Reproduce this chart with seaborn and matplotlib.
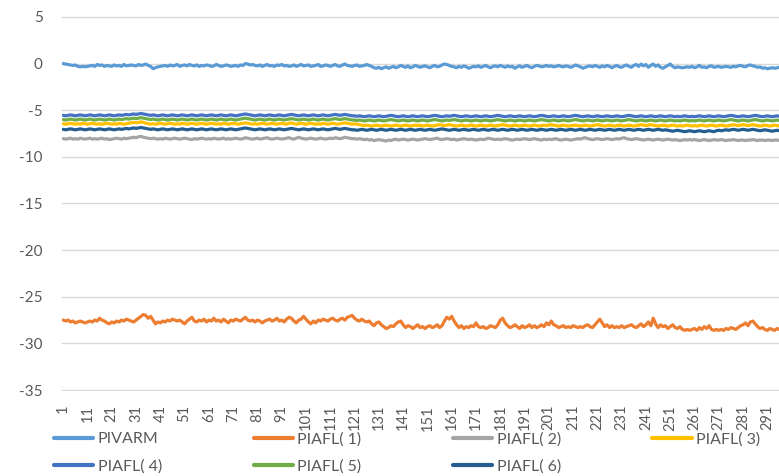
import numpy as np
import pandas as pd
import matplotlib
matplotlib.use('Agg')
import matplotlib.pyplot as plt
import seaborn as sns
from matplotlib.lines import Line2D

# series names and Excel default colours
names = ['PIVARM', 'PIAFL( 1)', 'PIAFL( 2)', 'PIAFL( 3)', 'PIAFL( 4)', 'PIAFL( 5)', 'PIAFL( 6)']
colors = ['#5B9BD5', '#ED7D31', '#A5A5A5', '#FFC000', '#4472C4', '#70AD47', '#255E91']

# x tick labels (every 10th category)
tick_labels = [str(v) for v in range(1, 292, 10)]

pivarm = [
    0.0, -0.05, -0.1, -0.15, -0.2, -0.15, -0.3, -0.35, -0.3, -0.35,
    -0.3, -0.25, -0.2, -0.3, -0.1, -0.2, -0.15, -0.3, -0.2, -0.25,
    -0.3, -0.15, -0.25, -0.2, -0.3, -0.1, -0.25, -0.2, -0.15, -0.2,
    -0.25, -0.1, -0.2, -0.15, -0.05, -0.2, -0.3, -0.55, -0.45, -0.35,
    -0.3, -0.25, -0.2, -0.3, -0.15, -0.25, -0.2, -0.1, -0.3, -0.2,
    -0.15, -0.25, -0.1, -0.2, -0.25, -0.15, -0.3, -0.2, -0.25, -0.15,
    -0.2, -0.3, -0.25, -0.1, -0.2, -0.3, -0.25, -0.15, -0.2, -0.3,
    -0.25, -0.2, -0.3, -0.15, -0.2, 0.0, -0.05, -0.15, -0.1, -0.2,
    -0.25, -0.15, -0.3, -0.2, -0.1, -0.25, -0.2, -0.3, -0.15, -0.2,
    -0.1, -0.25, -0.2, -0.3, -0.25, -0.15, -0.3, -0.2, -0.1, -0.25,
    -0.2, -0.15, -0.3, -0.25, -0.2, -0.1, -0.3, -0.25, -0.15, -0.2,
    -0.3, -0.2, -0.1, -0.25, -0.3, -0.15, -0.05, -0.2, -0.25, -0.3,
    -0.2, -0.15, -0.3, -0.25, -0.2, -0.1, -0.2, -0.3, -0.45, -0.5,
    -0.4, -0.55, -0.45, -0.35, -0.5, -0.4, -0.3, -0.45, -0.35, -0.2,
    -0.3, -0.4, -0.25, -0.45, -0.35, -0.2, -0.3, -0.4, -0.3, -0.25,
    -0.35, -0.45, -0.3, -0.2, -0.35, -0.3, -0.15, -0.05, -0.1, -0.2,
    -0.3, -0.35, -0.45, -0.3, -0.4, -0.25, -0.35, -0.5, -0.4, -0.3,
    -0.35, -0.25, -0.4, -0.3, -0.2, -0.35, -0.45, -0.3, -0.25, -0.35,
    -0.2, -0.3, -0.4, -0.25, -0.35, -0.3, -0.5, -0.35, -0.25, -0.4,
    -0.3, -0.2, -0.35, -0.45, -0.3, -0.2, -0.25, -0.35, -0.3, -0.2,
    -0.3, -0.25, -0.35, -0.3, -0.2, -0.3, -0.35, -0.25, -0.3, -0.4,
    -0.3, -0.15, -0.25, -0.35, -0.5, -0.4, -0.3, -0.25, -0.35, -0.2,
    -0.3, -0.4, -0.25, -0.35, -0.2, -0.3, -0.45, -0.3, -0.2, -0.35,
    -0.4, -0.25, -0.15, -0.3, -0.4, -0.2, -0.1, -0.3, -0.05, -0.25,
    -0.1, -0.4, -0.2, -0.05, -0.3, -0.15, -0.4, -0.5, -0.35, -0.2,
    -0.05, -0.3, -0.45, -0.35, -0.4, -0.45, -0.4, -0.35, -0.4, -0.3,
    -0.45, -0.35, -0.2, -0.4, -0.35, -0.45, -0.3, -0.25, -0.4, -0.35,
    -0.3, -0.4, -0.35, -0.3, -0.35, -0.4, -0.3, -0.35, -0.25, -0.2,
    -0.3, -0.35, -0.2, -0.15, -0.25, -0.3, -0.4, -0.35, -0.5, -0.45,
    -0.55, -0.5, -0.45, -0.5, -0.45, -0.4,
]

piafl_1 = [
    -27.5, -27.6, -27.5, -27.7, -27.6, -27.8, -27.7, -27.6, -27.7, -27.8,
    -27.7, -27.6, -27.7, -27.5, -27.6, -27.3, -27.5, -27.6, -27.8, -27.9,
    -27.7, -27.8, -27.6, -27.7, -27.5, -27.6, -27.4, -27.5, -27.6, -27.7,
    -27.5, -27.3, -27.1, -26.9, -27.0, -27.3, -27.1, -27.5, -27.9, -27.7,
    -27.8, -27.6, -27.7, -27.5, -27.6, -27.4, -27.5, -27.6, -27.5, -27.7,
    -27.9, -27.6, -27.4, -27.2, -27.6, -27.7, -27.5, -27.6, -27.4, -27.7,
    -27.5, -27.6, -27.3, -27.6, -27.5, -27.7, -27.4, -27.6, -27.8, -27.5,
    -27.6, -27.4, -27.5, -27.6, -27.4, -27.2, -27.5, -27.6, -27.5, -27.7,
    -27.5, -27.6, -27.8, -27.6, -27.5, -27.4, -27.6, -27.5, -27.3, -27.6,
    -27.5, -27.7, -27.4, -27.2, -27.3, -27.6, -27.8, -27.5, -27.4, -27.1,
    -27.4, -27.7, -27.9, -27.6, -27.8, -27.5, -27.6, -27.4, -27.5, -27.6,
    -27.4, -27.3, -27.5, -27.6, -27.4, -27.3, -27.5, -27.2, -27.1, -27.0,
    -27.3, -27.5, -27.6, -27.4, -27.6, -27.7, -27.6, -27.9, -28.1, -27.8,
    -27.7, -28.0, -28.2, -28.4, -28.3, -28.1, -28.2, -27.9, -27.7, -27.6,
    -28.0, -28.3, -28.1, -28.2, -28.4, -28.2, -28.0, -28.3, -28.2, -28.4,
    -28.2, -28.1, -28.3, -28.2, -28.0, -28.3, -28.1, -27.6, -27.2, -27.4,
    -27.1, -27.6, -28.0, -28.3, -28.1, -28.4, -28.2, -28.3, -28.1, -28.2,
    -27.8, -28.2, -28.3, -28.2, -28.4, -28.3, -28.1, -28.2, -28.3, -28.0,
    -27.5, -27.3, -27.8, -28.1, -28.3, -28.2, -28.0, -28.2, -28.4, -28.1,
    -28.3, -28.2, -28.0, -28.3, -28.1, -28.3, -28.2, -28.0, -28.2, -27.8,
    -28.0, -27.6, -28.0, -28.1, -28.3, -28.2, -28.1, -28.3, -28.2, -28.3,
    -28.1, -28.2, -28.3, -28.2, -28.3, -28.1, -28.0, -28.2, -28.3, -28.0,
    -27.7, -27.4, -27.8, -28.2, -28.0, -28.3, -28.1, -28.3, -28.2, -28.3,
    -28.1, -28.3, -28.2, -28.1, -28.0, -28.2, -28.3, -28.1, -27.9, -28.2,
    -28.0, -27.7, -28.1, -27.3, -27.9, -28.3, -28.0, -28.2, -28.1, -28.4,
    -28.2, -28.0, -28.3, -28.4, -28.2, -28.5, -28.6, -28.5, -28.6, -28.5,
    -28.4, -28.6, -28.3, -28.5, -28.2, -28.4, -28.1, -28.5, -28.6, -28.5,
    -28.6, -28.5, -28.6, -28.4, -28.5, -28.3, -28.4, -28.5, -28.3, -28.1,
    -28.0, -27.8, -28.1, -27.7, -27.6, -27.9, -28.2, -28.4, -28.3, -28.5,
    -28.6, -28.4, -28.5, -28.6, -28.4, -28.5,
]

piafl_2 = [
    -8.05, -8.1, -8.05, -8.0, -8.1, -8.05, -8.1, -8.0, -8.05, -8.1,
    -8.05, -8.0, -8.1, -8.05, -8.1, -8.05, -8.0, -8.1, -8.05, -8.15,
    -8.1, -8.05, -8.0, -8.05, -8.1, -8.0, -8.05, -8.0, -7.95, -7.9,
    -7.95, -7.85, -7.8, -7.9, -7.95, -8.0, -8.05, -8.0, -8.05, -8.1,
    -8.05, -8.1, -8.0, -8.05, -8.1, -8.05, -8.0, -8.05, -8.1, -8.05,
    -8.0, -8.05, -8.1, -8.15, -8.05, -8.1, -8.05, -8.0, -8.05, -8.1,
    -8.05, -8.1, -8.0, -8.05, -8.1, -8.05, -8.0, -8.1, -8.05, -8.1,
    -8.05, -8.0, -8.05, -8.1, -8.05, -7.95, -8.0, -8.05, -8.1, -8.05,
    -8.0, -8.1, -8.05, -8.0, -7.95, -8.05, -8.1, -8.05, -8.0, -8.05,
    -8.1, -8.05, -8.0, -7.95, -8.05, -8.1, -8.0, -7.9, -8.0, -8.05,
    -8.1, -8.05, -8.0, -8.05, -8.1, -8.05, -8.0, -8.05, -8.1, -8.05,
    -8.0, -8.05, -7.95, -8.0, -8.05, -8.0, -7.9, -7.95, -8.0, -8.05,
    -8.05, -8.1, -8.05, -8.1, -8.15, -8.1, -8.2, -8.15, -8.25, -8.2,
    -8.15, -8.2, -8.25, -8.3, -8.2, -8.25, -8.15, -8.1, -8.2, -8.15,
    -8.1, -8.15, -8.2, -8.15, -8.1, -8.15, -8.2, -8.15, -8.1, -8.05,
    -8.1, -8.15, -8.1, -8.05, -8.0, -8.1, -8.15, -8.1, -8.05, -8.1,
    -8.15, -8.1, -8.2, -8.15, -8.1, -8.05, -8.1, -8.15, -8.1, -8.15,
    -8.2, -8.15, -8.1, -8.15, -8.1, -8.0, -8.05, -8.1, -8.15, -8.1,
    -8.15, -8.1, -8.05, -8.1, -8.15, -8.2, -8.15, -8.1, -8.15, -8.1,
    -8.05, -8.1, -8.15, -8.1, -8.05, -8.1, -8.15, -8.2, -8.1, -8.15,
    -8.1, -8.15, -8.1, -8.05, -8.15, -8.2, -8.15, -8.1, -8.15, -8.2,
    -8.15, -8.1, -8.05, -8.1, -8.0, -7.95, -8.05, -8.1, -8.15, -8.1,
    -8.05, -8.1, -8.15, -8.1, -8.05, -8.1, -8.15, -8.1, -8.05, -8.1,
    -8.0, -7.95, -8.05, -8.1, -8.15, -8.1, -8.05, -8.1, -8.15, -8.2,
    -8.15, -8.1, -8.15, -8.2, -8.15, -8.1, -8.15, -8.2, -8.15, -8.1,
    -8.15, -8.2, -8.15, -8.2, -8.25, -8.2, -8.15, -8.2, -8.15, -8.2,
    -8.15, -8.2, -8.25, -8.2, -8.15, -8.2, -8.25, -8.2, -8.15, -8.2,
    -8.2, -8.15, -8.2, -8.25, -8.2, -8.2, -8.15, -8.2, -8.25, -8.2,
    -8.2, -8.25, -8.2, -8.2, -8.15, -8.2, -8.25, -8.2, -8.2, -8.25,
    -8.2, -8.2, -8.25, -8.2, -8.2, -8.25,
]

piafl_3 = [
    -6.45, -6.5, -6.45, -6.4, -6.45, -6.5, -6.45, -6.5, -6.4, -6.45,
    -6.5, -6.45, -6.4, -6.45, -6.5, -6.45, -6.5, -6.45, -6.4, -6.45,
    -6.5, -6.45, -6.5, -6.4, -6.45, -6.5, -6.45, -6.4, -6.35, -6.3,
    -6.35, -6.3, -6.25, -6.3, -6.4, -6.45, -6.5, -6.45, -6.5, -6.45,
    -6.4, -6.45, -6.5, -6.45, -6.4, -6.45, -6.5, -6.45, -6.5, -6.4,
    -6.45, -6.5, -6.45, -6.4, -6.45, -6.5, -6.45, -6.4, -6.45, -6.5,
    -6.45, -6.4, -6.45, -6.5, -6.45, -6.5, -6.4, -6.45, -6.5, -6.45,
    -6.4, -6.45, -6.5, -6.45, -6.4, -6.35, -6.4, -6.45, -6.5, -6.45,
    -6.5, -6.45, -6.4, -6.45, -6.5, -6.45, -6.4, -6.45, -6.5, -6.45,
    -6.4, -6.45, -6.5, -6.4, -6.35, -6.45, -6.5, -6.45, -6.4, -6.45,
    -6.5, -6.45, -6.4, -6.45, -6.5, -6.45, -6.5, -6.4, -6.45, -6.5,
    -6.45, -6.4, -6.45, -6.5, -6.45, -6.4, -6.35, -6.4, -6.45, -6.5,
    -6.45, -6.5, -6.55, -6.6, -6.65, -6.6, -6.65, -6.7, -6.65, -6.6,
    -6.65, -6.7, -6.65, -6.6, -6.65, -6.7, -6.65, -6.6, -6.65, -6.7,
    -6.65, -6.6, -6.65, -6.7, -6.65, -6.6, -6.65, -6.6, -6.7, -6.65,
    -6.6, -6.65, -6.7, -6.65, -6.6, -6.55, -6.6, -6.65, -6.6, -6.55,
    -6.6, -6.65, -6.7, -6.65, -6.6, -6.65, -6.7, -6.65, -6.6, -6.65,
    -6.7, -6.65, -6.6, -6.65, -6.7, -6.65, -6.6, -6.65, -6.7, -6.65,
    -6.6, -6.55, -6.6, -6.65, -6.7, -6.65, -6.6, -6.65, -6.7, -6.65,
    -6.6, -6.65, -6.7, -6.65, -6.6, -6.65, -6.7, -6.65, -6.6, -6.65,
    -6.6, -6.55, -6.6, -6.65, -6.7, -6.65, -6.6, -6.65, -6.7, -6.65,
    -6.65, -6.6, -6.65, -6.7, -6.65, -6.6, -6.65, -6.7, -6.65, -6.6,
    -6.55, -6.6, -6.65, -6.7, -6.65, -6.6, -6.65, -6.7, -6.65, -6.6,
    -6.65, -6.7, -6.65, -6.6, -6.65, -6.7, -6.65, -6.6, -6.55, -6.6,
    -6.65, -6.6, -6.55, -6.6, -6.65, -6.7, -6.65, -6.6, -6.65, -6.7,
    -6.65, -6.6, -6.65, -6.7, -6.65, -6.7, -6.65, -6.6, -6.65, -6.7,
    -6.65, -6.7, -6.65, -6.6, -6.65, -6.7, -6.65, -6.6, -6.65, -6.7,
    -6.65, -6.6, -6.65, -6.7, -6.65, -6.6, -6.55, -6.6, -6.65, -6.6,
    -6.55, -6.6, -6.65, -6.6, -6.55, -6.6, -6.65, -6.7, -6.65, -6.6,
    -6.65, -6.7, -6.65, -6.6, -6.65, -6.7,
]

piafl_4 = [
    -5.55, -5.6, -5.55, -5.5, -5.55, -5.6, -5.55, -5.5, -5.55, -5.6,
    -5.55, -5.5, -5.55, -5.6, -5.55, -5.5, -5.55, -5.6, -5.55, -5.5,
    -5.55, -5.6, -5.55, -5.5, -5.55, -5.5, -5.45, -5.5, -5.45, -5.4,
    -5.45, -5.4, -5.35, -5.4, -5.45, -5.5, -5.55, -5.5, -5.55, -5.6,
    -5.55, -5.5, -5.55, -5.6, -5.55, -5.5, -5.55, -5.6, -5.55, -5.5,
    -5.55, -5.6, -5.55, -5.5, -5.55, -5.6, -5.55, -5.5, -5.55, -5.6,
    -5.55, -5.5, -5.55, -5.6, -5.55, -5.5, -5.55, -5.6, -5.55, -5.5,
    -5.55, -5.6, -5.55, -5.5, -5.45, -5.4, -5.45, -5.5, -5.55, -5.6,
    -5.55, -5.5, -5.55, -5.6, -5.55, -5.5, -5.55, -5.6, -5.55, -5.5,
    -5.55, -5.6, -5.55, -5.5, -5.45, -5.5, -5.55, -5.6, -5.55, -5.5,
    -5.55, -5.6, -5.55, -5.5, -5.55, -5.6, -5.55, -5.5, -5.55, -5.6,
    -5.55, -5.5, -5.45, -5.5, -5.55, -5.5, -5.45, -5.5, -5.55, -5.6,
    -5.6, -5.65, -5.6, -5.65, -5.7, -5.65, -5.6, -5.65, -5.7, -5.65,
    -5.6, -5.65, -5.7, -5.65, -5.6, -5.55, -5.6, -5.65, -5.7, -5.65,
    -5.6, -5.65, -5.7, -5.65, -5.6, -5.65, -5.7, -5.65, -5.6, -5.65,
    -5.7, -5.65, -5.6, -5.55, -5.6, -5.65, -5.7, -5.65, -5.6, -5.65,
    -5.6, -5.55, -5.6, -5.65, -5.7, -5.65, -5.6, -5.65, -5.7, -5.65,
    -5.6, -5.65, -5.7, -5.65, -5.6, -5.65, -5.7, -5.65, -5.6, -5.55,
    -5.6, -5.65, -5.7, -5.65, -5.6, -5.65, -5.7, -5.65, -5.6, -5.65,
    -5.7, -5.65, -5.6, -5.65, -5.7, -5.65, -5.6, -5.55, -5.6, -5.65,
    -5.7, -5.65, -5.6, -5.65, -5.7, -5.65, -5.6, -5.65, -5.7, -5.65,
    -5.6, -5.55, -5.6, -5.65, -5.7, -5.65, -5.6, -5.65, -5.7, -5.65,
    -5.6, -5.65, -5.7, -5.65, -5.6, -5.65, -5.7, -5.65, -5.6, -5.65,
    -5.7, -5.65, -5.6, -5.55, -5.6, -5.65, -5.7, -5.65, -5.6, -5.65,
    -5.7, -5.65, -5.6, -5.65, -5.7, -5.65, -5.6, -5.65, -5.7, -5.65,
    -5.6, -5.65, -5.7, -5.65, -5.7, -5.65, -5.6, -5.65, -5.7, -5.65,
    -5.7, -5.65, -5.6, -5.65, -5.7, -5.65, -5.6, -5.65, -5.7, -5.65,
    -5.6, -5.65, -5.7, -5.65, -5.6, -5.55, -5.6, -5.65, -5.7, -5.65,
    -5.6, -5.65, -5.7, -5.65, -5.6, -5.55, -5.6, -5.65, -5.7, -5.65,
    -5.6, -5.65, -5.7, -5.65, -5.6, -5.65,
]

piafl_5 = [
    -6.0, -6.05, -6.0, -5.95, -6.0, -6.05, -6.0, -5.95, -6.0, -6.05,
    -6.0, -5.95, -6.0, -6.05, -6.0, -5.95, -6.0, -6.05, -6.0, -5.95,
    -6.0, -6.05, -6.0, -5.95, -6.0, -5.95, -5.9, -5.95, -5.9, -5.85,
    -5.9, -5.85, -5.8, -5.85, -5.9, -5.95, -6.0, -5.95, -6.0, -6.05,
    -6.0, -5.95, -6.0, -6.05, -6.0, -5.95, -6.0, -6.05, -6.0, -5.95,
    -6.0, -6.05, -6.0, -5.95, -6.0, -6.05, -6.0, -5.95, -6.0, -6.05,
    -6.0, -5.95, -6.0, -6.05, -6.0, -5.95, -6.0, -6.05, -6.0, -5.95,
    -6.0, -6.05, -6.0, -5.95, -5.9, -5.85, -5.9, -5.95, -6.0, -6.05,
    -6.0, -5.95, -6.0, -6.05, -6.0, -5.95, -6.0, -6.05, -6.0, -5.95,
    -6.0, -6.05, -6.0, -5.95, -5.9, -5.95, -6.0, -6.05, -6.0, -5.95,
    -6.0, -6.05, -6.0, -5.95, -6.0, -6.05, -6.0, -5.95, -6.0, -6.05,
    -6.0, -5.95, -5.9, -5.95, -6.0, -5.95, -5.9, -5.95, -6.0, -6.05,
    -6.05, -6.1, -6.05, -6.1, -6.15, -6.1, -6.05, -6.1, -6.15, -6.1,
    -6.05, -6.1, -6.15, -6.1, -6.05, -6.0, -6.05, -6.1, -6.15, -6.1,
    -6.05, -6.1, -6.15, -6.1, -6.05, -6.1, -6.15, -6.1, -6.05, -6.1,
    -6.15, -6.1, -6.05, -6.0, -6.05, -6.1, -6.15, -6.1, -6.05, -6.1,
    -6.05, -6.0, -6.05, -6.1, -6.15, -6.1, -6.05, -6.1, -6.15, -6.1,
    -6.05, -6.1, -6.15, -6.1, -6.05, -6.1, -6.15, -6.1, -6.05, -6.0,
    -6.05, -6.1, -6.15, -6.1, -6.05, -6.1, -6.15, -6.1, -6.05, -6.1,
    -6.15, -6.1, -6.05, -6.1, -6.15, -6.1, -6.05, -6.0, -6.05, -6.1,
    -6.15, -6.1, -6.05, -6.1, -6.15, -6.1, -6.05, -6.1, -6.15, -6.1,
    -6.05, -6.0, -6.05, -6.1, -6.15, -6.1, -6.05, -6.1, -6.15, -6.1,
    -6.05, -6.1, -6.15, -6.1, -6.05, -6.1, -6.15, -6.1, -6.05, -6.1,
    -6.15, -6.1, -6.05, -6.0, -6.05, -6.1, -6.15, -6.1, -6.05, -6.1,
    -6.15, -6.1, -6.05, -6.1, -6.15, -6.1, -6.05, -6.1, -6.15, -6.1,
    -6.05, -6.1, -6.15, -6.1, -6.15, -6.1, -6.05, -6.1, -6.15, -6.1,
    -6.15, -6.1, -6.05, -6.1, -6.15, -6.1, -6.05, -6.1, -6.15, -6.1,
    -6.05, -6.1, -6.15, -6.1, -6.05, -6.0, -6.05, -6.1, -6.15, -6.1,
    -6.05, -6.1, -6.15, -6.1, -6.05, -6.0, -6.05, -6.1, -6.15, -6.1,
    -6.05, -6.1, -6.15, -6.1, -6.05, -6.1,
]

piafl_6 = [
    -7.05, -7.1, -7.05, -7.0, -7.05, -7.1, -7.05, -7.0, -7.05, -7.1,
    -7.05, -7.0, -7.05, -7.1, -7.05, -7.0, -7.05, -7.1, -7.05, -7.0,
    -7.05, -7.1, -7.05, -7.0, -7.05, -7.0, -6.95, -7.0, -6.95, -6.9,
    -6.95, -6.9, -6.85, -6.9, -6.95, -7.0, -7.05, -7.0, -7.05, -7.1,
    -7.05, -7.0, -7.05, -7.1, -7.05, -7.0, -7.05, -7.1, -7.05, -7.0,
    -7.05, -7.1, -7.05, -7.0, -7.05, -7.1, -7.05, -7.0, -7.05, -7.1,
    -7.05, -7.0, -7.05, -7.1, -7.05, -7.0, -7.05, -7.1, -7.05, -7.0,
    -7.05, -7.1, -7.05, -7.0, -6.95, -6.9, -6.95, -7.0, -7.05, -7.1,
    -7.05, -7.0, -7.05, -7.1, -7.05, -7.0, -7.05, -7.1, -7.05, -7.0,
    -7.05, -7.1, -7.05, -7.0, -6.95, -7.0, -7.05, -7.1, -7.05, -7.0,
    -7.05, -7.1, -7.05, -7.0, -7.05, -7.1, -7.05, -7.0, -7.05, -7.1,
    -7.05, -7.0, -6.95, -7.0, -7.05, -7.0, -6.95, -7.0, -7.05, -7.1,
    -7.1, -7.15, -7.1, -7.05, -7.1, -7.15, -7.1, -7.05, -7.1, -7.15,
    -7.1, -7.05, -7.1, -7.15, -7.1, -7.05, -7.1, -7.15, -7.1, -7.05,
    -7.1, -7.15, -7.1, -7.05, -7.1, -7.15, -7.1, -7.05, -7.1, -7.15,
    -7.1, -7.05, -7.1, -7.15, -7.1, -7.05, -7.0, -7.05, -7.1, -7.15,
    -7.1, -7.05, -7.1, -7.15, -7.1, -7.05, -7.1, -7.15, -7.1, -7.05,
    -7.1, -7.15, -7.1, -7.05, -7.1, -7.15, -7.1, -7.05, -7.1, -7.15,
    -7.1, -7.05, -7.1, -7.15, -7.1, -7.05, -7.1, -7.15, -7.1, -7.05,
    -7.1, -7.15, -7.1, -7.05, -7.1, -7.15, -7.1, -7.05, -7.1, -7.15,
    -7.1, -7.05, -7.1, -7.15, -7.1, -7.05, -7.1, -7.15, -7.1, -7.05,
    -7.1, -7.15, -7.1, -7.05, -7.1, -7.15, -7.1, -7.05, -7.1, -7.15,
    -7.1, -7.05, -7.1, -7.15, -7.1, -7.05, -7.1, -7.15, -7.1, -7.05,
    -7.1, -7.15, -7.1, -7.05, -7.1, -7.15, -7.1, -7.05, -7.1, -7.15,
    -7.1, -7.05, -7.1, -7.15, -7.1, -7.05, -7.1, -7.15, -7.1, -7.15,
    -7.2, -7.25, -7.2, -7.15, -7.2, -7.25, -7.3, -7.25, -7.2, -7.25,
    -7.3, -7.25, -7.2, -7.25, -7.3, -7.25, -7.2, -7.25, -7.3, -7.2,
    -7.15, -7.2, -7.15, -7.1, -7.15, -7.1, -7.05, -7.1, -7.15, -7.1,
    -7.05, -7.1, -7.15, -7.1, -7.05, -7.1, -7.15, -7.2, -7.15, -7.1,
    -7.15, -7.2, -7.25, -7.2, -7.15, -7.2,
]

series = [pivarm, piafl_1, piafl_2, piafl_3, piafl_4, piafl_5, piafl_6]

frames = []
for name, vals in zip(names, series):
    frames.append(pd.DataFrame({'point': np.arange(1, len(vals) + 1),
                                'value': vals, 'series': name}))
df = pd.concat(frames, ignore_index=True)

sns.set_style('white')
plt.rcParams['font.family'] = ['Lato', 'DejaVu Sans']
plt.rcParams['axes.unicode_minus'] = False

fig = plt.figure(figsize=(7.79, 4.76), dpi=100)
ax = fig.add_axes([62 / 779, 85 / 476, 717 / 779, 375 / 476])

sns.lineplot(data=df, x='point', y='value', hue='series', hue_order=names,
             palette=colors, linewidth=2.3, estimator=None, sort=False,
             legend=False, ax=ax)

ax.set_xlim(0.5, 295.8)
ax.set_ylim(-35.1, 5.1)
ax.set_yticks(range(-35, 10, 5))
ax.set_xticks(range(1, 292, 10))
ax.set_xticklabels(tick_labels, rotation=90)
ax.set_xlabel('')
ax.set_ylabel('')
ax.grid(axis='y', color='#D9D9D9', linewidth=1)
ax.set_axisbelow(True)
for s in ax.spines.values():
    s.set_visible(False)
ax.tick_params(axis='y', length=0, colors='#595959', labelsize=11, pad=14)
ax.tick_params(axis='x', length=0, colors='#595959', labelsize=10.5, pad=10)

# legend laid out row-wise like Excel (matplotlib fills columns first)
handles = [Line2D([], [], color=c, linewidth=3) for c in colors]
order = [0, 4, 1, 5, 2, 6, 3]
fig.legend([handles[i] for i in order], [names[i] for i in order],
           ncol=4, loc='upper left', bbox_to_anchor=(54 / 779, 1 - 432 / 476),
           frameon=False, fontsize=11.5, labelcolor='#595959',
           handlelength=2.45, handletextpad=0.3, columnspacing=5.72,
           labelspacing=0.8, borderpad=0, borderaxespad=0)

fig.savefig('out.png', dpi=100)
